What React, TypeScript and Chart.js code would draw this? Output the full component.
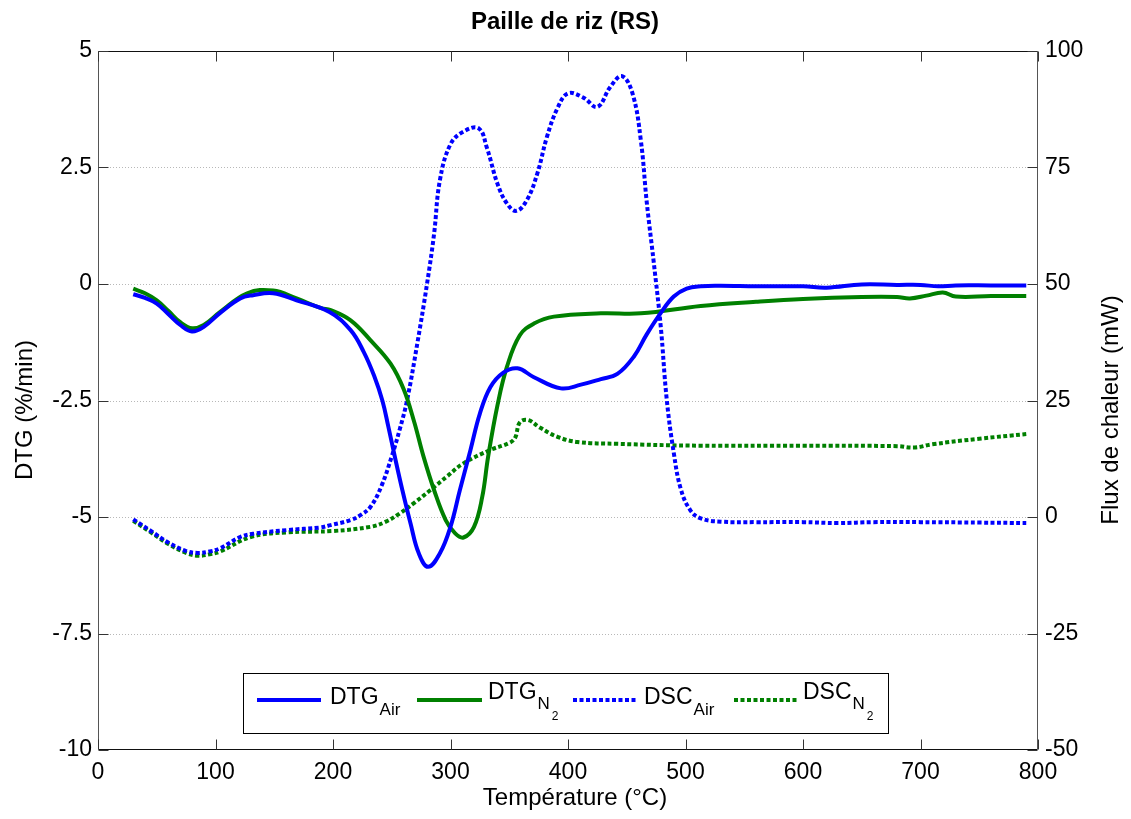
import React, { useEffect, useRef } from 'react';
import { Chart, registerables } from 'chart.js';
Chart.register(...registerables);

const TITLE = 'Paille de riz (RS)';
const X_TITLE = 'Température (°C)';
const Y_LEFT_TITLE = 'DTG (%/min)';
const Y_RIGHT_TITLE = 'Flux de chaleur (mW)';

const xTicks = [0, 100, 200, 300, 400, 500, 600, 700, 800];
const leftTicks = [5, 2.5, 0, -2.5, -5, -7.5, -10];
const rightTicks = [100, 75, 50, 25, 0, -25, -50];

// DTG under air (%/min)
const dtgAirT = [30, 40, 50, 60, 70, 80, 90, 104, 121, 132, 149, 169, 197, 215, 226, 235, 242, 247, 253, 259, 266, 273, 281, 291, 300, 308, 317, 325, 334, 345, 357, 371, 394, 411, 428, 442, 456, 467, 479, 490, 501, 513, 530, 560, 600, 620, 650, 680, 700, 715, 730, 760, 790];
const dtgAirV = [-0.22, -0.3, -0.42, -0.65, -0.88, -1.02, -0.92, -0.62, -0.31, -0.24, -0.2, -0.35, -0.6, -0.99, -1.45, -1.97, -2.5, -3.05, -3.75, -4.42, -5.14, -5.78, -6.07, -5.78, -5.21, -4.42, -3.56, -2.78, -2.21, -1.9, -1.81, -2.0, -2.24, -2.16, -2.04, -1.93, -1.56, -1.08, -0.62, -0.27, -0.1, -0.05, -0.04, -0.05, -0.05, -0.08, -0.01, -0.02, -0.02, -0.05, -0.03, -0.03, -0.03];

// DTG under N2 (%/min)
const dtgN2T = [30, 40, 50, 60, 70, 80, 90, 104, 127, 149, 169, 190, 198, 215, 232, 249, 260, 269, 277, 286, 296, 304, 311, 320, 327, 332, 340, 348, 359, 371, 388, 428, 462, 513, 560, 600, 650, 680, 691, 705, 719, 730, 760, 790];
const dtgN2V = [-0.1, -0.2, -0.35, -0.58, -0.82, -0.95, -0.88, -0.6, -0.2, -0.14, -0.31, -0.52, -0.56, -0.78, -1.21, -1.71, -2.25, -2.95, -3.7, -4.42, -5.07, -5.35, -5.44, -5.21, -4.57, -3.71, -2.6, -1.78, -1.1, -0.85, -0.7, -0.63, -0.63, -0.47, -0.38, -0.32, -0.28, -0.28, -0.31, -0.25, -0.18, -0.27, -0.26, -0.26];

// DSC under air (mW)
const dscAirT = [30, 45, 60, 75, 85, 95, 104, 121, 132, 161, 189, 198, 215, 224, 232, 241, 250, 257, 263, 272, 280, 286, 291, 300, 311, 324, 331, 340, 348, 356, 365, 374, 382, 391, 400, 413, 425, 436, 446, 455, 462, 467, 473, 479, 484, 490, 496, 504, 513, 530, 560, 600, 630, 660, 700, 750, 790];
const dscAirV = [-0.5, -3, -5.5, -7.3, -7.7, -7.4, -6.7, -4.3, -3.6, -2.8, -2.25, -1.74, -0.66, 0.5, 2.2, 6.5, 13, 19, 25, 37.6, 50, 60.7, 72.3, 80, 82.7, 83.4, 79.2, 71.5, 67.3, 65.7, 68, 73.8, 81.5, 87.7, 90.9, 90, 88, 92.3, 94.6, 90.8, 80.8, 67.6, 54.6, 40.7, 25.3, 13.8, 6, 1.5, -0.3, -1, -1.1, -1.1, -1.3, -1.1, -1.1, -1.2, -1.3];

// DSC under N2 (mW)
const dscN2T = [30, 45, 60, 75, 85, 95, 104, 130, 161, 200, 232, 245, 257, 270, 283, 297, 311, 334, 350, 355, 359, 366, 376, 391, 408, 442, 513, 600, 680, 695, 710, 750, 790];
const dscN2V = [-0.8, -3.3, -5.8, -7.7, -8.3, -8, -7.4, -4.3, -3.3, -3.0, -2.1, -1.0, 0.8, 3.2, 5.8, 8.7, 11.5, 14.4, 15.9, 17, 20.3, 20.8, 19.2, 17.2, 16.1, 15.7, 15.3, 15.3, 15.2, 14.9, 15.6, 16.8, 17.8];

const BLUE = '#0000ff';
const GREEN = '#008000';
const FONT = '"Liberation Sans", Arial, sans-serif';
const DOT = [4, 2.5];

const pts = (t: number[], v: number[]) => t.map((x, i) => ({ x, y: v[i] }));

const decorPlugin = {
  id: 'decor',
  beforeDatasetsDraw(chart: any) {
    const { ctx, chartArea: a, scales } = chart;
    const yL = scales.yL;
    ctx.save();
    ctx.strokeStyle = '#b8b8b8';
    ctx.lineWidth = 1;
    ctx.setLineDash([1, 2]);
    leftTicks.forEach((v) => {
      if (v === 5 || v === -10) return;
      const y = Math.round(yL.getPixelForValue(v)) + 0.5;
      ctx.beginPath();
      ctx.moveTo(a.left, y);
      ctx.lineTo(a.right, y);
      ctx.stroke();
    });
    ctx.restore();
  },
  afterDatasetsDraw(chart: any) {
    const { ctx, chartArea: a, scales } = chart;
    const { x: xs, yL, yR } = scales;
    const L = Math.round(a.left) + 0.5, R = Math.round(a.right) - 0.5;
    const T = Math.round(a.top) + 0.5, B = Math.round(a.bottom) - 0.5;
    ctx.save();
    ctx.lineWidth = 1;
    ctx.setLineDash([]);
    ctx.strokeStyle = '#111';
    ctx.beginPath();
    ctx.moveTo(L, T); ctx.lineTo(R, T);
    ctx.moveTo(L, B); ctx.lineTo(R, B);
    ctx.stroke();
    ctx.strokeStyle = '#555';
    ctx.beginPath();
    ctx.moveTo(L, T); ctx.lineTo(L, B);
    ctx.moveTo(R, T); ctx.lineTo(R, B);
    ctx.stroke();
    const tl = 10;
    ctx.strokeStyle = '#333';
    ctx.beginPath();
    xTicks.forEach((v) => {
      const x = Math.round(xs.getPixelForValue(v)) + 0.5;
      ctx.moveTo(x, T); ctx.lineTo(x, T + tl);
      ctx.moveTo(x, B); ctx.lineTo(x, B - tl);
    });
    leftTicks.forEach((v) => {
      const y = Math.round(yL.getPixelForValue(v)) + 0.5;
      ctx.moveTo(L, y); ctx.lineTo(L + tl, y);
    });
    rightTicks.forEach((v) => {
      const y = Math.round(yR.getPixelForValue(v)) + 0.5;
      ctx.moveTo(R, y); ctx.lineTo(R - tl, y);
    });
    ctx.stroke();

    // legend
    const bx = 243.5, by = 673.5, bw = 645, bh = 60;
    ctx.fillStyle = '#fff';
    ctx.fillRect(bx, by, bw, bh);
    ctx.strokeStyle = '#000';
    ctx.strokeRect(bx, by, bw, bh);
    const items = [
      { x1: 257, x2: 321, tx: 330, color: BLUE, dash: [] as number[], main: 'DTG', sub: 'Air', n2: false },
      { x1: 417, x2: 482, tx: 488, color: GREEN, dash: [] as number[], main: 'DTG', sub: 'N', n2: true },
      { x1: 573, x2: 636, tx: 644, color: BLUE, dash: DOT, main: 'DSC', sub: 'Air', n2: false },
      { x1: 734, x2: 798, tx: 803, color: GREEN, dash: DOT, main: 'DSC', sub: 'N', n2: true },
    ];
    items.forEach((it) => {
      ctx.strokeStyle = it.color;
      ctx.lineWidth = 4;
      ctx.setLineDash(it.dash);
      ctx.beginPath();
      ctx.moveTo(it.x1, 700);
      ctx.lineTo(it.x2, 700);
      ctx.stroke();
      ctx.setLineDash([]);
      ctx.fillStyle = '#000';
      ctx.textAlign = 'left';
      ctx.textBaseline = 'alphabetic';
      ctx.font = `23px ${FONT}`;
      const base = it.n2 ? 699 : 704;
      ctx.fillText(it.main, it.tx, base);
      const w = ctx.measureText(it.main).width;
      ctx.font = `17px ${FONT}`;
      ctx.fillText(it.sub, it.tx + w + 1, it.n2 ? 709 : 715);
      if (it.n2) {
        const w2 = ctx.measureText(it.sub).width;
        ctx.font = `12px ${FONT}`;
        ctx.fillText('2', it.tx + w + 1 + w2 + 2, 720);
      }
    });
    ctx.restore();
  },
  afterDraw(chart: any) {
    const { ctx } = chart;
    const cy = 410;
    ctx.save();
    ctx.fillStyle = '#000';
    ctx.textAlign = 'center';
    ctx.textBaseline = 'alphabetic';
    ctx.font = `bold 24px ${FONT}`;
    ctx.fillText(TITLE, 565, 29);
    ctx.font = `24px ${FONT}`;
    ctx.fillText(X_TITLE, 575, 805);
    ctx.textBaseline = 'middle';
    ctx.save();
    ctx.translate(25, cy);
    ctx.rotate(-Math.PI / 2);
    ctx.fillText(Y_LEFT_TITLE, 0, 0);
    ctx.restore();
    ctx.save();
    ctx.translate(1111, cy);
    ctx.rotate(-Math.PI / 2);
    ctx.fillText(Y_RIGHT_TITLE, 0, 0);
    ctx.restore();
    ctx.restore();
  },
};

export default function App() {
  const ref = useRef<HTMLCanvasElement>(null);
  useEffect(() => {
    const tickFont = { family: FONT, size: 23 };
    const common = { borderWidth: 4, pointRadius: 0, tension: 0.4, fill: false };
    const chart = new Chart(ref.current as HTMLCanvasElement, {
      type: 'line',
      data: {
        datasets: [
          { label: 'DTG Air', data: pts(dtgAirT, dtgAirV), yAxisID: 'yL', borderColor: BLUE, ...common },
          { label: 'DTG N2', data: pts(dtgN2T, dtgN2V), yAxisID: 'yL', borderColor: GREEN, ...common },
          { label: 'DSC Air', data: pts(dscAirT, dscAirV), yAxisID: 'yR', borderColor: BLUE, borderDash: DOT, ...common },
          { label: 'DSC N2', data: pts(dscN2T, dscN2V), yAxisID: 'yR', borderColor: GREEN, borderDash: DOT, ...common },
        ],
      } as any,
      options: {
        responsive: false,
        animation: false,
        layout: { padding: { top: 51, left: 0, right: 0, bottom: 0 } },
        plugins: { legend: { display: false }, title: { display: false }, tooltip: { enabled: false } },
        scales: {
          x: {
            type: 'linear', position: 'bottom', min: 0, max: 800,
            afterBuildTicks: (s: any) => { s.ticks = xTicks.map((value) => ({ value })); },
            afterFit: (s: any) => { s.height = 69; },
            ticks: { padding: 9, font: tickFont, color: '#000', maxRotation: 0, autoSkip: false, callback: (v: any) => String(v) },
            grid: { display: false, drawTicks: false },
            border: { display: false },
          },
          yL: {
            type: 'linear', position: 'left', min: -10, max: 5,
            afterBuildTicks: (s: any) => { s.ticks = leftTicks.map((value) => ({ value })); },
            afterFit: (s: any) => { s.width = 98; },
            ticks: { padding: 6, font: tickFont, color: '#000', autoSkip: false, callback: (v: any) => String(v) },
            grid: { display: false, drawTicks: false },
            border: { display: false },
          },
          yR: {
            type: 'linear', position: 'right', min: -50, max: 100,
            afterBuildTicks: (s: any) => { s.ticks = rightTicks.map((value) => ({ value })); },
            afterFit: (s: any) => { s.width = 93; },
            ticks: { padding: 7, font: tickFont, color: '#000', autoSkip: false, callback: (v: any) => String(v) },
            grid: { display: false, drawTicks: false },
            border: { display: false },
          },
        },
      } as any,
      plugins: [decorPlugin],
    });
    return () => chart.destroy();
  }, []);
  return (
    <div style={{ position: 'fixed', left: 0, top: 0, width: 1131, height: 819, background: '#fff' }}>
      <canvas ref={ref} width={1131} height={819} style={{ display: 'block' }} />
    </div>
  );
}
